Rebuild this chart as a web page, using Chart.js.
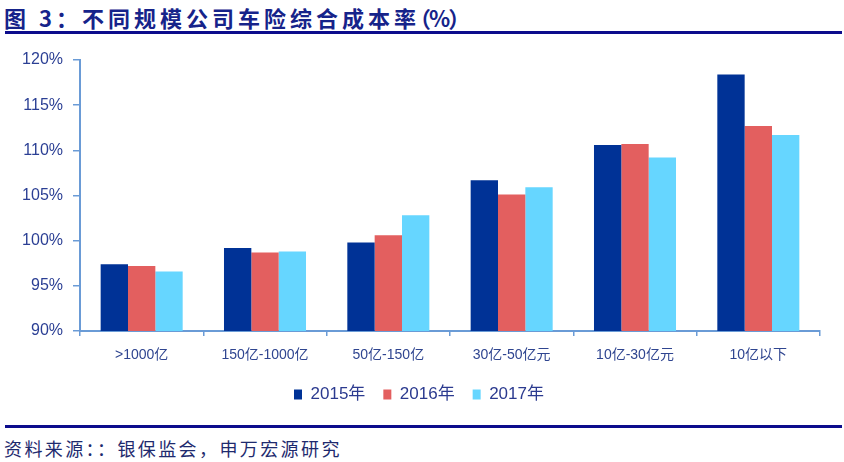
<!DOCTYPE html>
<html>
<head>
<meta charset="utf-8">
<script src="https://cdn.jsdelivr.net/npm/chart.js@4"></script>
<style>
  html, body { margin: 0; padding: 0; background: #fff; }
  body { width: 844px; height: 462px; position: relative; overflow: hidden; }
  #title { position: absolute; left: 4px; top: 3px; font-family: 'Noto Sans CJK SC', sans-serif; font-weight: bold; font-size: 22px; line-height: 28px; letter-spacing: 4px; color: #16238A; white-space: nowrap; }
  #title .p { letter-spacing: -2px; font-feature-settings: "halt"; }
  #line1 { position: absolute; left: 5px; top: 31px; width: 837px; height: 3px; background: #0C0C8C; }
  #line2 { position: absolute; left: 5px; top: 425px; width: 837px; height: 3px; background: #0C0C8C; }
  #foot { position: absolute; left: 4px; top: 436px; font-family: 'Noto Sans CJK SC', sans-serif; font-size: 18px; line-height: 24px; letter-spacing: 2.4px; color: #1E2A6E; white-space: nowrap; }
  #wrap { position: absolute; left: 0; top: 40px; width: 844px; height: 375px; }
</style>
</head>
<body>
<div id="title">图 3：不同规模公司车险综合成本率<span class="p">（%）</span></div>
<div id="line1"></div>
<div id="wrap"><canvas id="c" width="844" height="375"></canvas></div>
<div id="line2"></div>
<div id="foot">资料来源：：银保监会，申万宏源研究</div>
<script>
const categories = ['>1000亿', '150亿-1000亿', '50亿-150亿', '30亿-50亿元', '10亿-30亿元', '10亿以下'];
const seriesNames = ['2015年', '2016年', '2017年'];
const values2015 = [97.4, 99.2, 99.8, 106.7, 110.6, 118.4];
const values2016 = [97.2, 98.7, 100.6, 105.1, 110.7, 112.7];
const values2017 = [96.6, 98.8, 102.8, 105.9, 109.2, 111.7];
const yTicks = [90, 95, 100, 105, 110, 115, 120];

const colors = ['#003296', '#E35F5F', '#66D6FF'];
const axisColor = '#6A9BD6';
const fontFamily = "'Liberation Sans', 'Noto Sans CJK SC', sans-serif";

new Chart(document.getElementById('c'), {
  type: 'bar',
  data: {
    labels: categories,
    datasets: [values2015, values2016, values2017].map((d, i) => ({
      label: seriesNames[i],
      data: d,
      backgroundColor: colors[i],
      borderWidth: 0,
      categoryPercentage: 0.665,
      barPercentage: 1.0
    }))
  },
  options: {
    responsive: false,
    animation: false,
    layout: { padding: { left: 18, right: 24, top: 20, bottom: 2 } },
    plugins: {
      tooltip: { enabled: false },
      legend: {
        position: 'bottom',
        labels: {
          boxWidth: 8,
          boxHeight: 10,
          padding: 18,
          color: '#2B3A8F',
          font: { family: fontFamily, size: 17 }
        }
      }
    },
    scales: {
      x: {
        afterFit: s => { s.height = 37; },
        grid: { display: true, drawOnChartArea: false, drawTicks: true, tickLength: 5, color: axisColor, lineWidth: 1.5, offset: true },
        border: { display: true, color: axisColor, width: 2 },
        ticks: { color: '#2F4590', padding: 11, font: { family: fontFamily, size: 14 }, maxRotation: 0, autoSkip: false }
      },
      y: {
        min: 90, max: 120,
        afterFit: s => { s.width = 62; },
        afterBuildTicks: s => { s.ticks = yTicks.map(v => ({ value: v })); },
        grid: { display: true, drawOnChartArea: false, drawTicks: true, tickLength: 7, color: axisColor, lineWidth: 1.5 },
        border: { display: true, color: axisColor, width: 2 },
        ticks: { color: '#2B3F94', padding: 10, font: { family: fontFamily, size: 16 }, callback: v => v + '%' }
      }
    }
  }
});
</script>
</body>
</html>
